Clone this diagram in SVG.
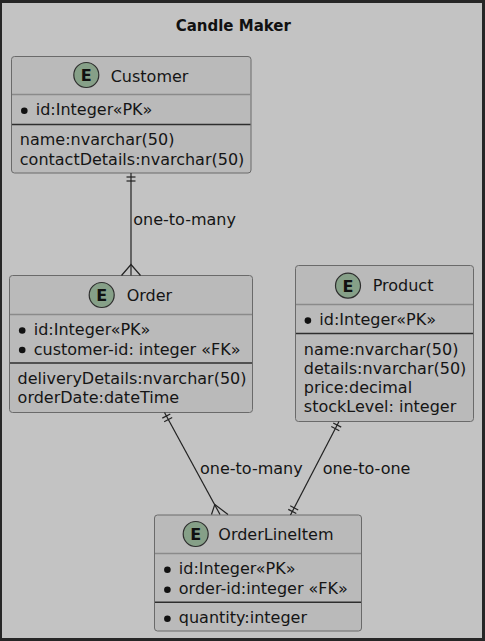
<svg xmlns="http://www.w3.org/2000/svg" width="485" height="641" viewBox="0 0 485 641">
<style>
.t{font-family:"DejaVu Sans",Verdana,sans-serif;font-size:16px;fill:#151515}
.ttl{font-family:"DejaVu Sans",Verdana,sans-serif;font-size:15px;font-weight:bold;fill:#111}
.e{font-family:"DejaVu Sans",Verdana,sans-serif;font-size:16px;font-weight:bold;fill:#111;text-anchor:middle}
.box{fill:#bababa;stroke:#6a6a6a;stroke-width:1}
.hs{stroke:#8a8a8a;stroke-width:1.5}
.ds{stroke:#2e2e2e;stroke-width:1.5}
.ic{fill:#86a088;stroke:#2e2e2e;stroke-width:1.2}
.b{fill:#111}
.c line,.c polyline{stroke:#222;stroke-width:1.2;fill:none}
</style>
<rect x="0" y="0" width="485" height="641" fill="#262626"/>
<rect x="2" y="3" width="480" height="635" fill="#c3c3c3"/>
<text class="ttl" x="233.3" y="30.7" text-anchor="middle">Candle Maker</text>

<g id="Customer">
<rect class="box" x="11.5" y="56.5" width="239.5" height="116.5" rx="3"/>
<line class="hs" x1="12" y1="94.5" x2="250.5" y2="94.5"/>
<line class="ds" x1="12" y1="124.5" x2="250.5" y2="124.5"/>
<circle class="ic" cx="86.3" cy="75" r="12.5"/>
<text class="e" x="86.3" y="80.8">E</text>
<text class="t" x="110.7" y="81.7">Customer</text>
<circle class="b" cx="24.3" cy="110.7" r="3.3"/>
<text class="t" x="35.7" y="115.3">id:Integer«PK»</text>
<text class="t" x="19.8" y="145.3">name:nvarchar(50)</text>
<text class="t" x="19.8" y="165.3">contactDetails:nvarchar(50)</text>
</g>

<g id="Order">
<rect class="box" x="9.5" y="275.5" width="243" height="137" rx="3"/>
<line class="hs" x1="10" y1="314.5" x2="252" y2="314.5"/>
<line class="ds" x1="10" y1="363" x2="252" y2="363"/>
<circle class="ic" cx="101.7" cy="295" r="12.5"/>
<text class="e" x="101.7" y="300.8">E</text>
<text class="t" x="126.7" y="300.7">Order</text>
<circle class="b" cx="22.2" cy="330.5" r="3.3"/>
<text class="t" x="33.7" y="335">id:Integer«PK»</text>
<circle class="b" cx="22.2" cy="350" r="3.3"/>
<text class="t" x="33.7" y="354.5">customer-id: integer «FK»</text>
<text class="t" x="17.6" y="383.5">deliveryDetails:nvarchar(50)</text>
<text class="t" x="17.6" y="403.3">orderDate:dateTime</text>
</g>

<g id="Product">
<rect class="box" x="295.5" y="265.5" width="178" height="156" rx="3"/>
<line class="hs" x1="296" y1="304.5" x2="473" y2="304.5"/>
<line class="ds" x1="296" y1="333.5" x2="473" y2="333.5"/>
<circle class="ic" cx="348" cy="285.7" r="12.5"/>
<text class="e" x="348" y="291.5">E</text>
<text class="t" x="372.7" y="291.3">Product</text>
<circle class="b" cx="307.9" cy="320.6" r="3.3"/>
<text class="t" x="319.3" y="325.2">id:Integer«PK»</text>
<text class="t" x="303.8" y="354.6">name:nvarchar(50)</text>
<text class="t" x="303.8" y="373.6">details:nvarchar(50)</text>
<text class="t" x="303.8" y="392.8">price:decimal</text>
<text class="t" x="303.8" y="411.8">stockLevel: integer</text>
</g>

<g id="OrderLineItem">
<rect class="box" x="154.5" y="515" width="207" height="116" rx="3"/>
<line class="hs" x1="155" y1="553.5" x2="361" y2="553.5"/>
<line class="ds" x1="155" y1="602.3" x2="361" y2="602.3"/>
<circle class="ic" cx="195.7" cy="534" r="12.5"/>
<text class="e" x="195.7" y="539.8">E</text>
<text class="t" x="218.3" y="540">OrderLineItem</text>
<circle class="b" cx="167.4" cy="569.8" r="3.3"/>
<text class="t" x="178.8" y="574.4">id:Integer«PK»</text>
<circle class="b" cx="167.4" cy="589.8" r="3.3"/>
<text class="t" x="178.8" y="594.4">order-id:integer «FK»</text>
<circle class="b" cx="167.4" cy="618.8" r="3.3"/>
<text class="t" x="178.8" y="623.4">quantity:integer</text>
</g>

<g id="connectors" class="c">
<line x1="131" y1="173" x2="131" y2="275.5"/>
<line x1="126.5" y1="177" x2="135.5" y2="177"/>
<line x1="126.5" y1="181" x2="135.5" y2="181"/>
<polyline points="121.5,275.5 131,264.5 140.5,275.5"/>
<text class="t" x="133.3" y="225">one-to-many</text>

<line x1="164.5" y1="412.5" x2="220" y2="514.5"/>
<line x1="162.3" y1="418.1" x2="170.3" y2="414"/>
<line x1="164.2" y1="421.7" x2="172.2" y2="417.5"/>
<polyline points="211.5,514.5 214.8,504.5 228,514.5"/>
<text class="t" x="200" y="474">one-to-many</text>

<line x1="339" y1="421.5" x2="290.5" y2="515"/>
<line x1="333.2" y1="423" x2="341.2" y2="427.1"/>
<line x1="331.3" y1="426.5" x2="339.3" y2="430.7"/>
<line x1="288.3" y1="509.4" x2="296.3" y2="513.5"/>
<line x1="290.2" y1="505.8" x2="298.2" y2="510"/>
<text class="t" x="322.7" y="474">one-to-one</text>
</g>
</svg>
